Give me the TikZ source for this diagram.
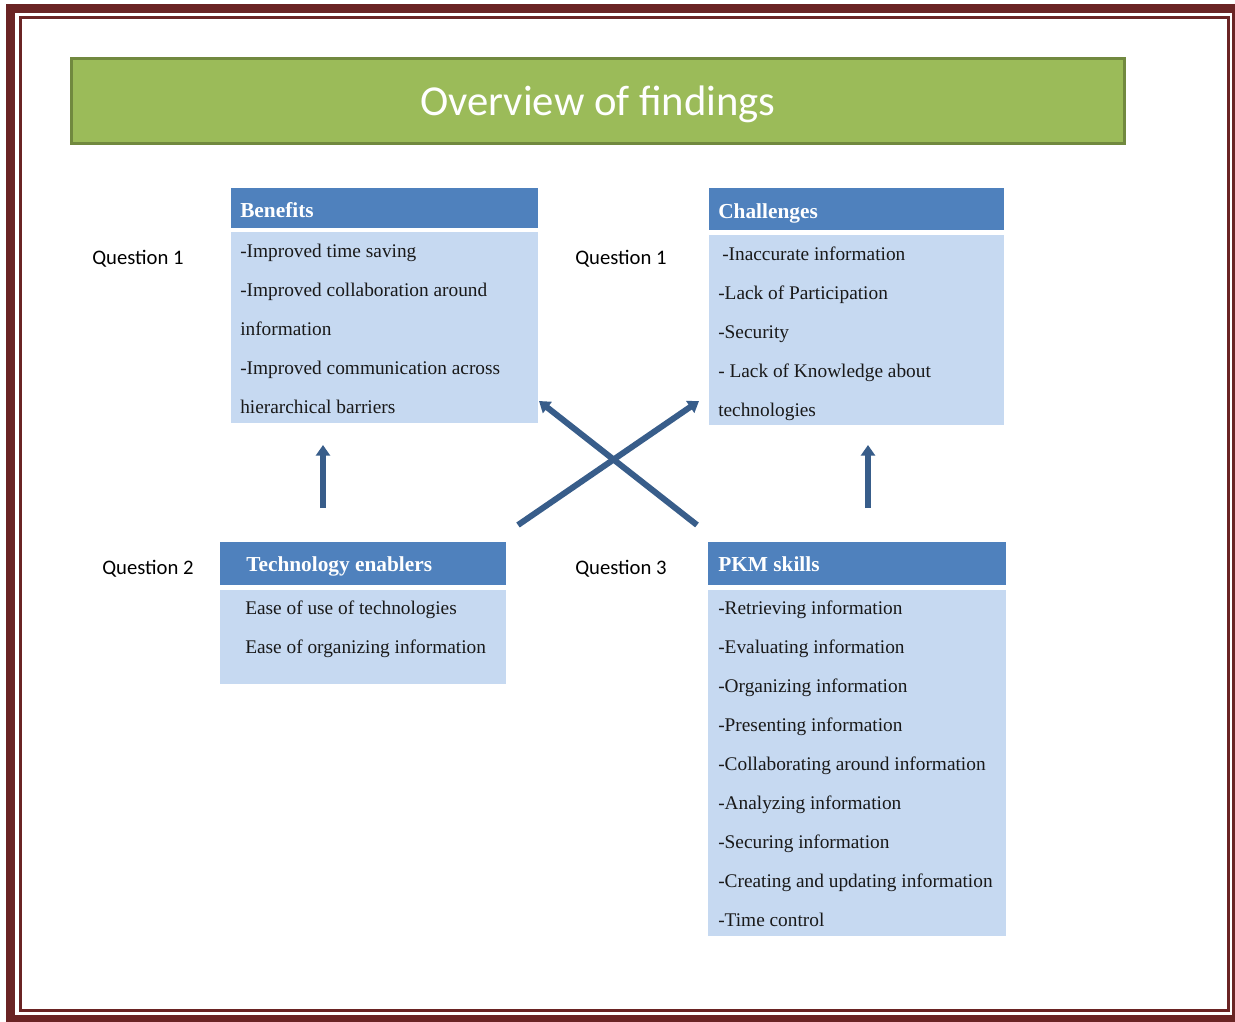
\documentclass[tikz,border=0pt]{standalone}
\usepackage{fontspec}
\setmainfont{Liberation Serif}
\newfontfamily\calibri{Carlito}
\usetikzlibrary{arrows.meta}
\def\linesep{39}
\definecolor{framered}{HTML}{6A2424}
\definecolor{titlegreen}{HTML}{9BBB59}
\definecolor{titleedge}{HTML}{71893F}
\definecolor{headblue}{HTML}{4F81BD}
\definecolor{bodyblue}{HTML}{C6D9F1}
\definecolor{arrowblue}{HTML}{385D8A}

\begin{document}
\begin{tikzpicture}[x=0.75pt,y=-0.75pt]
            \tikzstyle{box}=[rectangle,anchor=north west,inner sep=0pt]
            \tikzstyle{head box}=[box,fill=headblue]
            \tikzstyle{body box}=[box,fill=bodyblue]
            \tikzstyle{head text}=[anchor=west,inner sep=0pt,text height=11pt,text depth=3pt,text=white,font=\fontsize{16}{19}\selectfont\bfseries]
            \tikzstyle{item}=[anchor=west,inner sep=0pt,text height=10pt,text depth=3pt,text=black!90,font=\fontsize{14.5}{17}\selectfont]
            \tikzstyle{question}=[anchor=west,inner sep=0pt,text height=11pt,text depth=3pt,font=\calibri\fontsize{15.5}{18}\selectfont]
            \tikzstyle{link}=[draw=arrowblue,line width=4.5pt,-{Triangle[width=10.5pt,length=8pt]}]

            \useasboundingbox (0,0) rectangle (1235,1021);

            % Draw the frame
            \draw[framered, line width=6.75pt] (10.5,8) rectangle (1236,1019);
            \draw[framered, line width=2.25pt] (20,17.5) rectangle (1228.5,1010);

            % Title bar
            \node[box,fill=titlegreen,draw=titleedge,line width=2pt,minimum width=790pt,minimum height=64pt,
                  text=white,font=\calibri\fontsize{32}{38}\selectfont,text height=22pt,text depth=0.5pt] (title) at (70,57) {Overview of findings};

            % Draw the boxes
            \node[head box,minimum width=230pt,minimum height=29.5pt] (B-head) at (231,188) {};
            \node[body box,minimum width=230pt,minimum height=143pt] (B-body) at (231,232) {};
            \node[head box,minimum width=221pt,minimum height=31pt] (C-head) at (709,188) {};
            \node[body box,minimum width=221pt,minimum height=142.5pt] (C-body) at (709,235) {};
            \node[head box,minimum width=214.5pt,minimum height=32pt] (T-head) at (220,542) {};
            \node[body box,minimum width=214.5pt,minimum height=70pt] (T-body) at (220,590) {};
            \node[head box,minimum width=223pt,minimum height=32pt] (P-head) at (708,542) {};
            \node[body box,minimum width=223pt,minimum height=259.5pt] (P-body) at (708,590) {};

            % Box titles
            \node[head text] (B-title) at (240,212) {Benefits};
            \node[head text] (C-title) at (718,213) {Challenges};
            \node[head text] (T-title) at (246,566) {Technology enablers};
            \node[head text] (P-title) at (718,566) {PKM skills};

            % Fill the boxes
            \foreach \name / \txt in {1/{-Improved time saving},2/{-Improved collaboration around},
                                     3/{information},4/{-Improved communication across},5/{hierarchical barriers}}
                \node[item] (B-\name) at (240,{214+\linesep*\name}) {\txt};

            \foreach \x / \name / \txt in {722/1/{-Inaccurate information},718/2/{-Lack of Participation},
                                          718/3/{-Security},718/4/{- Lack of Knowledge about},718/5/{technologies}}
                \node[item] (C-\name) at (\x,{217+\linesep*\name}) {\txt};

            \foreach \name / \txt in {1/{Ease of use of technologies},2/{Ease of organizing information}}
                \node[item] (T-\name) at (245,{571+\linesep*\name}) {\txt};

            \foreach \name / \txt in {1/{-Retrieving information},2/{-Evaluating information},3/{-Organizing information},
                                     4/{-Presenting information},5/{-Collaborating around information},6/{-Analyzing information},
                                     7/{-Securing information},8/{-Creating and updating information},9/{-Time control}}
                \node[item] (P-\name) at (718,{571+\linesep*\name}) {\txt};

            % Question labels
            \node[question] (Q-B) at (92,259) {Question 1};
            \node[question] (Q-C) at (575,259) {Question 1};
            \node[question] (Q-T) at (102,569) {Question 2};
            \node[question] (Q-P) at (575,569) {Question 3};

            % Arrow ends
            \coordinate (T-out) at (323,508);
            \coordinate (B-in) at (323,445);
            \coordinate (P-out) at (868,508);
            \coordinate (C-in) at (868,445);
            \coordinate (T-cross) at (518,525);
            \coordinate (C-cross) at (699,401);
            \coordinate (P-cross) at (697,525);
            \coordinate (B-cross) at (539,401);

            % Connect the boxes
            \draw[link] (T-out) -- (B-in);
            \draw[link] (P-out) -- (C-in);
            \draw[link] (T-cross) -- (C-cross);
            \draw[link] (P-cross) -- (B-cross);
\end{tikzpicture}
\end{document}
